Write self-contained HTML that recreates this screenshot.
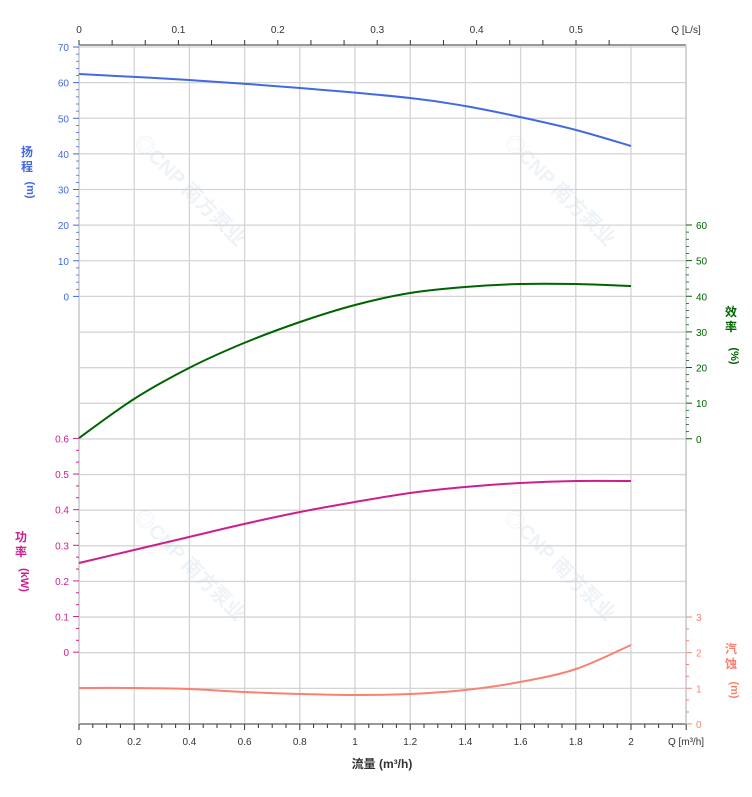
<!DOCTYPE html>
<html><head><meta charset="utf-8"><style>
body{margin:0;background:#fff;}
svg{display:block;font-family:"Liberation Sans","Noto Sans CJK SC",sans-serif;}
</style></head><body>
<svg id="s" width="752" height="797" xmlns="http://www.w3.org/2000/svg"></svg>
<script>
const s=document.getElementById('s');let h='';
const X0=79,X1=631,XE=686,Y0=47,YB=724,ST=35.63;
// watermarks
[[185,195],[555,195],[185,570],[555,570]].forEach(([x,y])=>{h+=`<text x="${x}" y="${y}" font-size="20" font-weight="bold" fill="#eef3f8" text-anchor="middle" transform="rotate(45 ${x} ${y})">◎CNP 南方泵业</text>`;});
for(let i=0;i<=11;i++){let x=X0+i*55.2;h+=`<line x1="${x}" y1="45" x2="${x}" y2="${YB}" stroke="#d4d4d4" stroke-width="1.3"/>`;}
for(let i=0;i<=19;i++){let y=Y0+i*ST;h+=`<line x1="${X0}" y1="${y}" x2="${XE}" y2="${y}" stroke="#d4d4d4" stroke-width="1.3"/>`;}
h+=`<line x1="${X0}" y1="45" x2="${XE}" y2="45" stroke="#999" stroke-width="2"/>`;
h+=`<line x1="${X0}" y1="${YB}" x2="${XE}" y2="${YB}" stroke="#999" stroke-width="2"/>`;
h+=`<line x1="${X0}" y1="45" x2="${X0}" y2="${YB}" stroke="#ccc" stroke-width="1.5"/>`;
h+=`<line x1="${XE}" y1="45" x2="${XE}" y2="${YB}" stroke="#ccc" stroke-width="1.5"/>`;
for(let i=0;i<=16;i++){let x=X0+i*99.4/3;if(x>XE)break;h+=`<line x1="${x}" y1="40" x2="${x}" y2="45" stroke="#333"/>`;}
for(let i=0;i<=5;i++){let x=X0+i*99.4;h+=`<text x="${x}" y="33" font-size="10" text-anchor="middle" fill="#333">${i==0?'0':'0.'+i}</text>`;}
h+=`<text x="686" y="33" font-size="10" text-anchor="middle" fill="#333">Q [L/s]</text>`;
for(let i=0;i<=44;i++){let x=X0+i*13.8;h+=`<line x1="${x}" y1="${YB}" x2="${x}" y2="${YB+(i%4==0?6:4)}" stroke="#333"/>`;}
const bl=['0','0.2','0.4','0.6','0.8','1','1.2','1.4','1.6','1.8','2'];
bl.forEach((t,i)=>{h+=`<text x="${X0+i*55.2}" y="745" font-size="10" text-anchor="middle" fill="#333">${t}</text>`;});
h+=`<text x="686" y="745" font-size="10" text-anchor="middle" fill="#333">Q [m³/h]</text>`;
h+=`<text x="382" y="768" font-size="12" font-weight="bold" text-anchor="middle" fill="#333">流量 (m³/h)</text>`;
const cb='#4169e1';
for(let i=0;i<=35;i++){let y=Y0+i*ST/5;h+=`<line x1="${X0-(i%5==0?6:3)}" y1="${y}" x2="${X0}" y2="${y}" stroke="${cb}" stroke-width="${i%5==0?1:0.8}"/>`;}
for(let i=0;i<=7;i++){let y=Y0+i*ST;h+=`<text x="69" y="${y+4}" font-size="10" text-anchor="end" fill="${cb}">${70-i*10}</text>`;}
h+=`<text x="27" y="156" font-size="12" font-weight="bold" fill="${cb}" text-anchor="middle">扬</text><text x="27" y="171" font-size="12" font-weight="bold" fill="${cb}" text-anchor="middle">程</text>`;
h+=`<text x="27" y="190" font-size="11" font-weight="bold" fill="${cb}" text-anchor="middle" transform="rotate(90 27 190)">(m)</text>`;
const cp='#cc1f8f';const PY=438.4;
for(let i=0;i<=18;i++){let y=PY+i*ST/3;h+=`<line x1="${X0-(i%3==0?6:3)}" y1="${y}" x2="${X0}" y2="${y}" stroke="${cp}"/>`;}
for(let i=0;i<=6;i++){let y=PY+i*ST;let t=i==6?'0':(0.6-i*0.1).toFixed(1);h+=`<text x="69" y="${y+4}" font-size="10" text-anchor="end" fill="${cp}">${t}</text>`;}
h+=`<text x="21" y="541" font-size="12" font-weight="bold" fill="${cp}" text-anchor="middle">功</text><text x="21" y="556" font-size="12" font-weight="bold" fill="${cp}" text-anchor="middle">率</text>`;
h+=`<text x="21" y="580" font-size="11" font-weight="bold" fill="${cp}" text-anchor="middle" transform="rotate(90 21 580)">(kW)</text>`;
const ce='#006400';const EY=225;
for(let i=0;i<=30;i++){let y=EY+i*ST/5;h+=`<line x1="${XE}" y1="${y}" x2="${XE+(i%5==0?6:3)}" y2="${y}" stroke="${ce}" stroke-width="${i%5==0?1:0.8}"/>`;}
for(let i=0;i<=6;i++){let y=EY+i*ST;h+=`<text x="696" y="${y+4}" font-size="10" fill="${ce}">${60-i*10}</text>`;}
h+=`<text x="731" y="316" font-size="12" font-weight="bold" fill="${ce}" text-anchor="middle">效</text><text x="731" y="331" font-size="12" font-weight="bold" fill="${ce}" text-anchor="middle">率</text>`;
h+=`<text x="731" y="356" font-size="11" font-weight="bold" fill="${ce}" text-anchor="middle" transform="rotate(90 731 356)">(%)</text>`;
const cn='#fa8072';const NY=617;
for(let i=0;i<=9;i++){let y=NY+i*ST/3;h+=`<line x1="${XE}" y1="${y}" x2="${XE+(i%3==0?6:3)}" y2="${y}" stroke="${cn}"/>`;}
for(let i=0;i<=3;i++){let y=NY+i*ST;h+=`<text x="696" y="${y+4}" font-size="10" fill="${cn}">${3-i}</text>`;}
h+=`<text x="731" y="653" font-size="12" font-weight="bold" fill="${cn}" text-anchor="middle">汽</text><text x="731" y="668" font-size="12" font-weight="bold" fill="${cn}" text-anchor="middle">蚀</text>`;
h+=`<text x="731" y="690" font-size="11" font-weight="bold" fill="${cn}" text-anchor="middle" transform="rotate(90 731 690)">(m)</text>`;
function curve(q,c){let d='M'+q[0].join(',');for(let i=0;i<q.length-1;i++){let p0=q[i-1]||q[i],p1=q[i],p2=q[i+1],p3=q[i+2]||p2;d+=` C${p1[0]+(p2[0]-p0[0])/6},${p1[1]+(p2[1]-p0[1])/6} ${p2[0]-(p3[0]-p1[0])/6},${p2[1]-(p3[1]-p1[1])/6} ${p2[0]},${p2[1]}`;}
h+=`<path d="${d}" fill="none" stroke="${c}" stroke-width="2"/>`;}
curve([[79,74],[189,80],[300,88],[410,98],[465,106],[520,117],[576,130],[631,146]],cb);
curve([[79,438],[134,399],[189,368],[244,343],[300,322],[355,305],[410,293],[465,287],[520,284],[576,284],[631,286]],ce);
curve([[79,563],[134,550],[189,537],[244,524],[300,512],[355,502],[410,493],[465,487],[520,483],[576,481],[631,481]],cp);
curve([[79,688],[134,688],[189,689],[244,692],[300,694],[355,695],[410,694],[465,690],[520,682],[576,669],[631,645]],cn);
s.innerHTML=h;
</script>
</body></html>
